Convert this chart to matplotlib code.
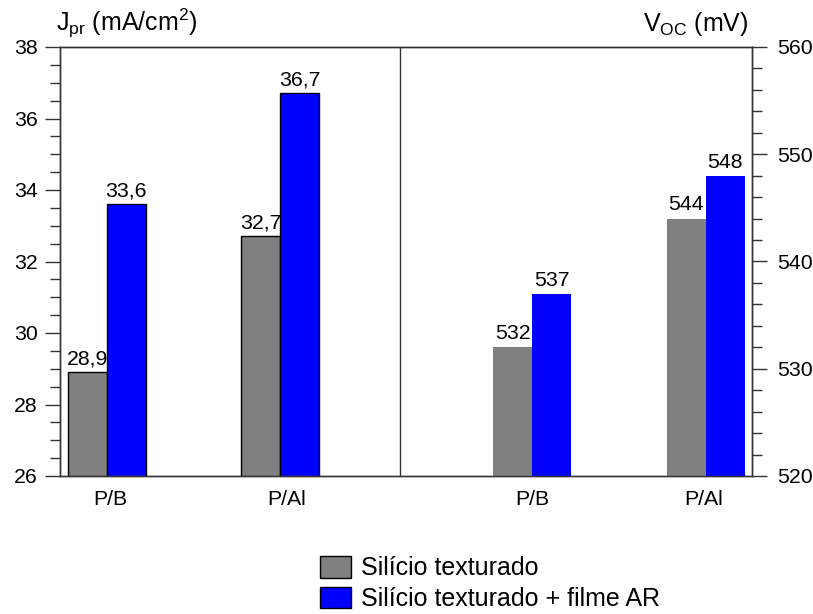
import matplotlib
matplotlib.use('Agg')
from matplotlib import pyplot as plt
from matplotlib.ticker import MultipleLocator
import numpy as np

plt.rcParams['font.family'] = ['Liberation Sans', 'DejaVu Sans']
plt.rcParams['mathtext.default'] = 'regular'

# Dados
grupos = ['P/B', 'P/Al']
series = ['Silício texturado', 'Silício texturado + filme AR']
jpr_text = [28.9, 32.7]      # mA/cm2
jpr_ar = [33.6, 36.7]
voc_text = [532, 544]        # mV
voc_ar = [537, 548]

cor_cinza = '#808080'
cor_azul = '#0000ff'
cor_eixo = '#333333'
fs = 15.3
fs_tit = 18

fig = plt.figure(figsize=(8.13, 6.14), dpi=100)
ax = fig.add_axes([60/813, 138/614, 692/813, 429/614])
ax2 = ax.twinx()

w = 1.0
xl = np.array([1.2, 5.65])      # centros dos grupos (Jpr)
xr = np.array([12.1, 16.55])    # centros dos grupos (Voc)

ax.bar(xl - w/2, jpr_text, w, color=cor_cinza, edgecolor='black', linewidth=1, label=series[0])
ax.bar(xl + w/2, jpr_ar, w, color=cor_azul, edgecolor='black', linewidth=1, label=series[1])
ax2.bar(xr - w/2, voc_text, w, color=cor_cinza, linewidth=0)
ax2.bar(xr + w/2, voc_ar, w, color=cor_azul, linewidth=0)

def fmt(v):
    return f'{v:.1f}'.replace('.', ',') if isinstance(v, float) else str(v)

for xs, vals, a in [(xl - w/2, jpr_text, ax), (xl + w/2, jpr_ar, ax),
                    (xr - w/2, voc_text, ax2), (xr + w/2, voc_ar, ax2)]:
    for x, v in zip(xs, vals):
        a.annotate(fmt(v), (x, v), xytext=(0, 3), textcoords='offset points',
                   ha='center', va='bottom', fontsize=fs)

ax.set_xlim(0, 17.74)
ax.set_ylim(26, 38)
ax2.set_ylim(520, 560)

ax.yaxis.set_major_locator(MultipleLocator(2))
ax.yaxis.set_minor_locator(MultipleLocator(0.5))
ax2.yaxis.set_major_locator(MultipleLocator(10))
ax2.yaxis.set_minor_locator(MultipleLocator(2))

# rotulos do eixo x levemente deslocados no painel da esquerda
ax.set_xticks(np.concatenate([xl + [0.1, 0.15], xr + [0.0, -0.04]]))
ax.set_xticklabels(grupos + grupos, fontsize=fs)
ax.tick_params(axis='x', length=0, pad=10)
ax.tick_params(axis='y', which='major', length=11, width=1, color=cor_eixo, labelsize=fs, pad=5)
ax.tick_params(axis='y', which='minor', length=7, width=1, color=cor_eixo)
ax2.tick_params(axis='y', which='major', length=11, width=1, color=cor_eixo, labelsize=fs, pad=7)
ax2.tick_params(axis='y', which='minor', length=7, width=1, color=cor_eixo)

for a in (ax, ax2):
    for s in a.spines.values():
        s.set_color(cor_eixo)
        s.set_linewidth(1)

# divisoria entre os dois paineis
ax.axvline(8.72, color=cor_eixo, linewidth=1)

fig.text(56/813, 1 - 31/614, 'J$_{pr}$ (mA/cm$^{2}$)', fontsize=fs_tit, ha='left', va='baseline')
fig.text(749/813, 1 - 31/614, 'V$_{OC}$ (mV)', fontsize=fs_tit, ha='right', va='baseline')

h, l = ax.get_legend_handles_labels()
fig.legend(h, l, loc='upper left', bbox_to_anchor=(320/813, 1 - 556/614), frameon=False,
           fontsize=fs_tit, handlelength=1.25, handleheight=0.95, handletextpad=0.4,
           labelspacing=0.26, borderpad=0, borderaxespad=0)

fig.savefig('out.png', dpi=100)
